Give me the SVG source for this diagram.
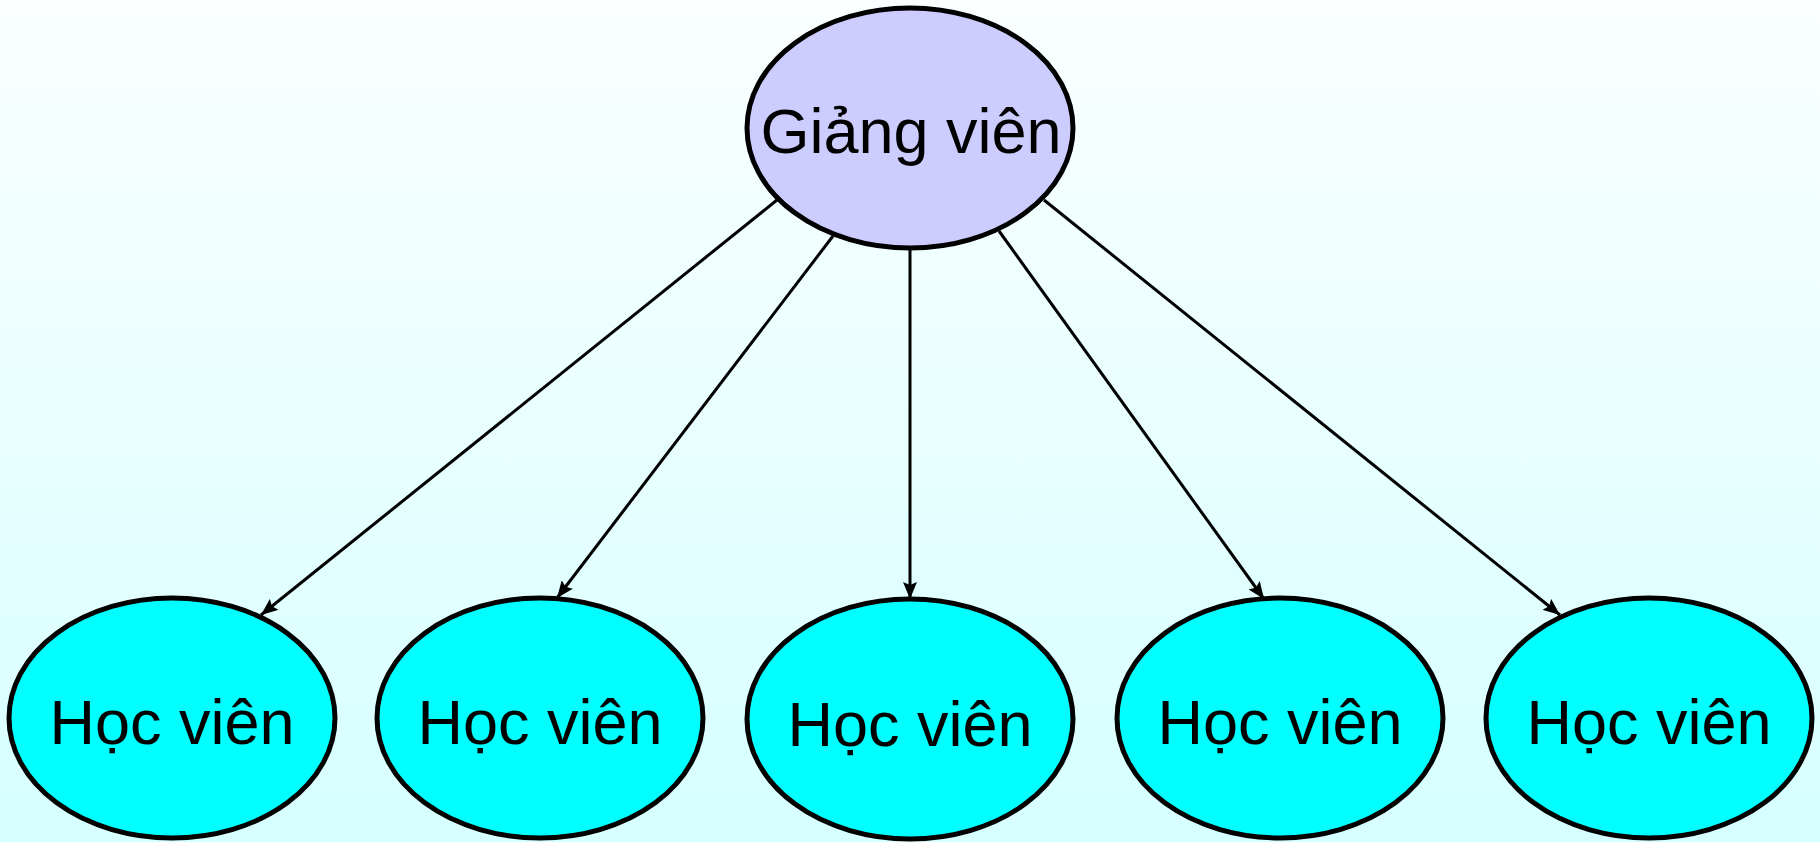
<svg xmlns="http://www.w3.org/2000/svg" width="1820" height="842" viewBox="0 0 1820 842">
<defs>
<linearGradient id="bg" x1="0" y1="0" x2="0" y2="1">
<stop offset="0" stop-color="#fbffff"/>
<stop offset="1" stop-color="#d6ffff"/>
</linearGradient>
<marker id="arr" markerUnits="userSpaceOnUse" markerWidth="18" markerHeight="14" refX="17" refY="7" orient="auto">
<path d="M0,0 L17,7 L0,14 L3,7 z" fill="#000"/>
</marker>
<style>
.node ellipse{stroke:#000;stroke-width:5}
.top ellipse{fill:#ccccff}
.stu ellipse{fill:#00ffff}
text{font-family:"Liberation Sans",Arial,sans-serif;font-size:63px;fill:#000;text-anchor:middle}
#edges line{stroke:#000;stroke-width:3;marker-end:url(#arr)}
</style>
</defs>
<rect width="1820" height="842" fill="url(#bg)"/>
<g id="edges">
<line x1="777" y1="200" x2="261" y2="615"/>
<line x1="833" y1="236" x2="557" y2="598"/>
<line x1="910" y1="250" x2="910" y2="599"/>
<line x1="999" y1="231" x2="1264" y2="599"/>
<line x1="1044" y1="200" x2="1560" y2="615"/>
</g>
<g id="giang-vien" class="node top">
<ellipse cx="910" cy="128" rx="163" ry="120"/>
<text x="911" y="153">Giảng viên</text>
</g>
<g id="hoc-vien-1" class="node stu">
<ellipse cx="172" cy="718" rx="163" ry="120"/>
<text x="172" y="744">Học viên</text>
</g>
<g id="hoc-vien-2" class="node stu">
<ellipse cx="540" cy="718" rx="163" ry="120"/>
<text x="540" y="744">Học viên</text>
</g>
<g id="hoc-vien-3" class="node stu">
<ellipse cx="910" cy="719" rx="163" ry="120"/>
<text x="910" y="746">Học viên</text>
</g>
<g id="hoc-vien-4" class="node stu">
<ellipse cx="1280" cy="718" rx="163" ry="120"/>
<text x="1280" y="744">Học viên</text>
</g>
<g id="hoc-vien-5" class="node stu">
<ellipse cx="1649" cy="718" rx="163" ry="120"/>
<text x="1649" y="744">Học viên</text>
</g>
</svg>
